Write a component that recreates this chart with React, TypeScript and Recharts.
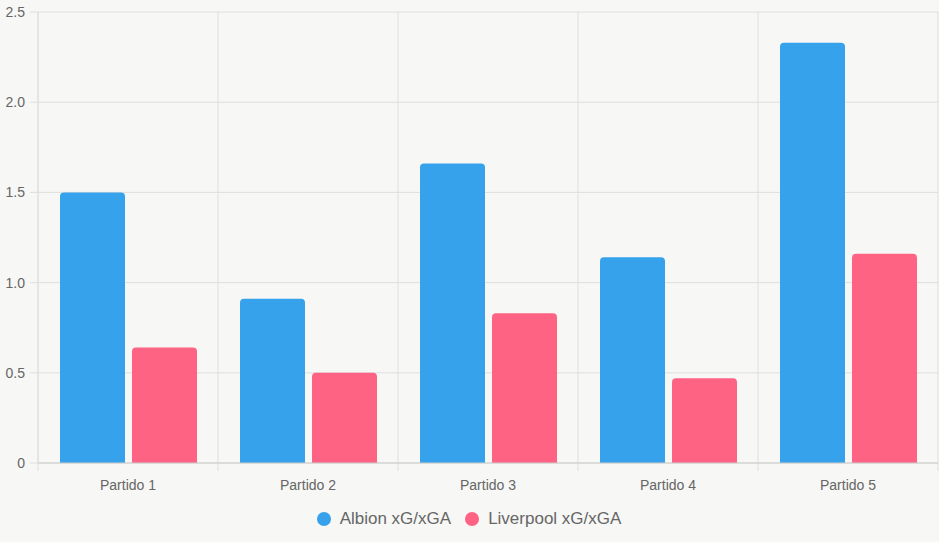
import React from 'react';
import { BarChart, Bar, XAxis, YAxis, CartesianGrid, Legend } from 'recharts';

const partidos = ['Partido 1', 'Partido 2', 'Partido 3', 'Partido 4', 'Partido 5'];
const albion = [1.5, 0.91, 1.66, 1.14, 2.33];
const liverpool = [0.64, 0.5, 0.83, 0.47, 1.16];
const yTicks = [0, 0.5, 1, 1.5, 2, 2.5];

const series = [
  { key: 'albion', name: 'Albion xG/xGA', color: '#36A2EB' },
  { key: 'liverpool', name: 'Liverpool xG/xGA', color: '#FF6384' },
];

const data = partidos.map((name, i) => ({ name, albion: albion[i], liverpool: liverpool[i] }));

const TEXT = '#666';
const GRID = '#dedede';

// category tick: label in the middle, tick mark on the left boundary (and right one for the last)
const CategoryTick = (props: any) => {
  const { x, y, payload, index } = props;
  const half = payload.offset ?? 0;
  const top = y - 14;
  return (
    <g>
      <line x1={x - half} x2={x - half} y1={top} y2={top + 8} stroke={GRID} />
      {index === partidos.length - 1 && (
        <line x1={x + half} x2={x + half} y1={top} y2={top + 8} stroke={GRID} />
      )}
      <text x={x} y={y} dy={13} textAnchor="middle" fill={TEXT} fontSize={14}>
        {payload.value}
      </text>
    </g>
  );
};

const LegendContent = () => (
  <div style={{ display: 'flex', justifyContent: 'center', gap: 14, fontSize: 17, color: TEXT, paddingTop: 6 }}>
    {series.map((s) => (
      <div key={s.key} style={{ display: 'flex', alignItems: 'center', gap: 9 }}>
        <span style={{ width: 14, height: 14, borderRadius: 7, background: s.color, display: 'inline-block' }} />
        <span>{s.name}</span>
      </div>
    ))}
  </div>
);

export default function App() {
  return (
    <div style={{ position: 'absolute', top: 0, left: 0, width: 939, height: 542, background: '#f7f7f5', fontFamily: 'Arial, "Liberation Sans", sans-serif' }}>
      <BarChart width={939} height={542} data={data} margin={{ top: 12, right: 1, left: 0, bottom: 0 }} barSize={65} barGap={7}>
        <CartesianGrid
          stroke={GRID}
          verticalCoordinatesGenerator={({ offset }: any) =>
            partidos.map((_, i) => offset.left + (i * offset.width) / partidos.length).concat(offset.left + offset.width)
          }
        />
        <XAxis
          dataKey="name"
          height={40}
          axisLine={{ stroke: '#ccc' }}
          tickLine={false}
          tickSize={8}
          tickMargin={6}
          tick={<CategoryTick />}
          interval={0}
        />
        <YAxis
          width={38}
          domain={[0, 2.5]}
          ticks={yTicks}
          axisLine={{ stroke: GRID }}
          tickLine={{ stroke: GRID }}
          tickSize={8}
          tickMargin={5}
          tick={{ fill: TEXT, fontSize: 14 }}
          tickFormatter={(v: number) => (v === 0 ? '0' : v.toFixed(1))}
        />
        <Legend verticalAlign="bottom" height={39} content={<LegendContent />} />
        {series.map((s) => (
          <Bar key={s.key} dataKey={s.key} name={s.name} fill={s.color} radius={[4, 4, 0, 0]} isAnimationActive={false} />
        ))}
      </BarChart>
    </div>
  );
}
